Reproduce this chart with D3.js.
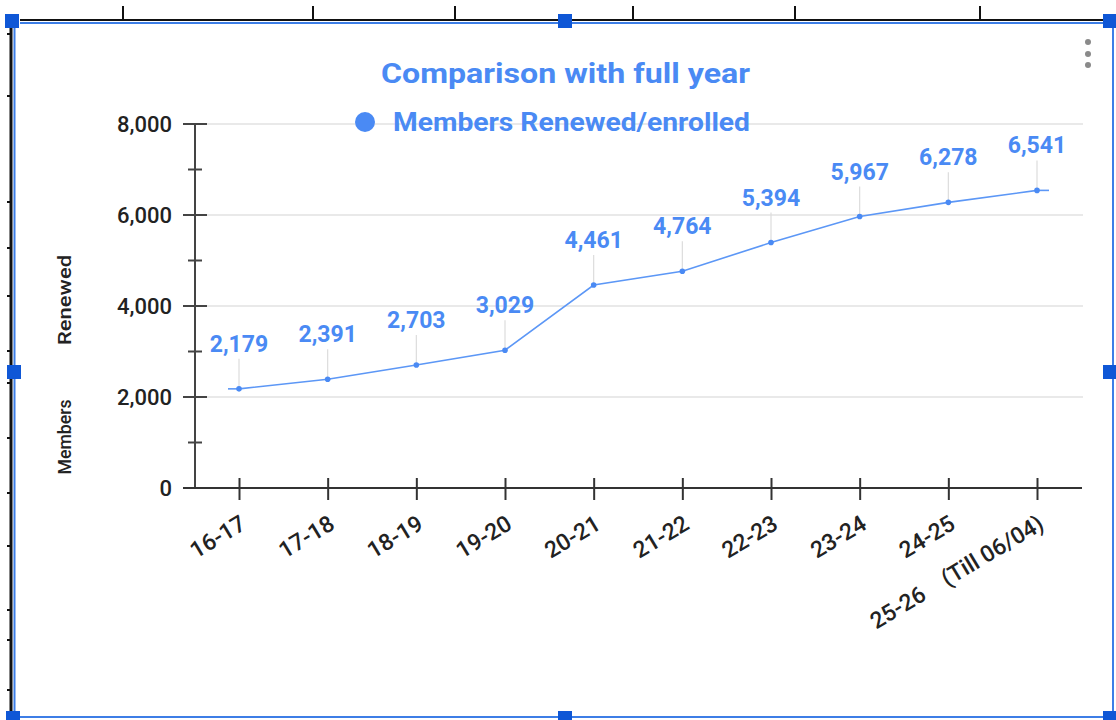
<!DOCTYPE html>
<html>
<head>
<meta charset="utf-8">
<script src="https://cdn.jsdelivr.net/npm/d3@7"></script>
<style>
  html, body { margin: 0; padding: 0; background: #fff; }
  svg { display: block; font-family: Roboto, "Noto Sans", sans-serif; }
</style>
</head>
<body>
<svg id="chart" width="1116" height="720"></svg>
<script>
const categories = ["16-17", "17-18", "18-19", "19-20", "20-21", "21-22", "22-23", "23-24", "24-25", "25-26    (Till 06/04)"];
const values = [2179, 2391, 2703, 3029, 4461, 4764, 5394, 5967, 6278, 6541];
const yTicks = [0, 2000, 4000, 6000, 8000];
const yMinorTicks = [1000, 3000, 5000, 7000];
const seriesName = "Members Renewed/enrolled";
const chartTitle = "Comparison with full year";
const yTitleParts = ["Members", "Renewed"];

const svg = d3.select("#chart");
const BLUE = "#4a8af4";
const HANDLE = "#0f57d6";
const BORDER = "#3d7ee6";

// ----- selection frame (screenshot chrome) -----
const frame = svg.append("g");
frame.append("line").attr("x1", 20).attr("x2", 1107).attr("y1", 20).attr("y2", 20).attr("stroke", "#111").attr("stroke-width", 2);
frame.append("line").attr("x1", 20).attr("x2", 1107).attr("y1", 23).attr("y2", 23).attr("stroke", BORDER).attr("stroke-width", 2);
[123, 313, 455, 633, 795, 980].forEach(x => {
  frame.append("line").attr("x1", x).attr("x2", x).attr("y1", 6).attr("y2", 20).attr("stroke", "#111").attr("stroke-width", 2);
});
frame.append("line").attr("x1", 11).attr("x2", 11).attr("y1", 28).attr("y2", 714).attr("stroke", "#111").attr("stroke-width", 3);
frame.append("line").attr("x1", 14.5).attr("x2", 14.5).attr("y1", 28).attr("y2", 714).attr("stroke", BORDER).attr("stroke-width", 2);
[34, 96, 202, 248, 296, 351, 383, 438, 493, 546, 610, 640, 690].forEach(y => {
  frame.append("line").attr("x1", 7).attr("x2", 12).attr("y1", y).attr("y2", y).attr("stroke", "#111").attr("stroke-width", 2);
});
frame.append("line").attr("x1", 1113).attr("x2", 1113).attr("y1", 28).attr("y2", 714).attr("stroke", BORDER).attr("stroke-width", 2);
frame.append("line").attr("x1", 18).attr("x2", 1107).attr("y1", 717).attr("y2", 717).attr("stroke", BORDER).attr("stroke-width", 2);
[[12, 21], [565, 21], [1110, 21], [14, 372], [1110, 372], [13, 718], [565, 718], [1110, 718]].forEach(([cx, cy]) => {
  frame.append("rect").attr("x", cx - 7).attr("y", cy - 7).attr("width", 14).attr("height", 14).attr("fill", HANDLE);
});
// kebab menu
[42, 54, 65].forEach(cy => frame.append("circle").attr("cx", 1088).attr("cy", cy).attr("r", 3).attr("fill", "#8a8a8a"));

// ----- scales -----
const x = d3.scalePoint().domain(categories).range([239, 1037]);
const y = d3.scaleLinear().domain([0, 8000]).range([488, 124]);

// gridlines
svg.append("g").selectAll("line").data(yTicks.filter(d => d > 0)).join("line")
  .attr("x1", 195).attr("x2", 1083)
  .attr("y1", d => y(d)).attr("y2", d => y(d))
  .attr("stroke", "#e2e2e2").attr("stroke-width", 1.5);

// title
svg.append("text").attr("x", 381).attr("y", 83)
  .attr("font-size", 28).attr("font-weight", 700).attr("fill", BLUE)
  .attr("textLength", 369).attr("lengthAdjust", "spacingAndGlyphs").text(chartTitle);

// legend
svg.append("circle").attr("cx", 365).attr("cy", 122).attr("r", 10).attr("fill", BLUE);
svg.append("text").attr("x", 393).attr("y", 131).attr("font-size", 26).attr("font-weight", 700)
  .attr("textLength", 357).attr("lengthAdjust", "spacingAndGlyphs")
  .attr("fill", BLUE).text(seriesName);

// y axis
const yAxis = svg.append("g").attr("transform", "translate(195,0)")
  .call(d3.axisLeft(y).tickValues(yTicks).tickFormat(d3.format(",")).tickSize(0).tickPadding(23));
yAxis.select(".domain").remove();
yAxis.selectAll("text").attr("font-size", 22).attr("font-weight", 500).attr("fill", "#222")
  .attr("font-family", "Roboto, sans-serif");
svg.append("line").attr("x1", 195).attr("x2", 195).attr("y1", 123).attr("y2", 489).attr("stroke", "#444").attr("stroke-width", 2);
svg.append("g").selectAll("line").data(yTicks).join("line")
  .attr("x1", 183).attr("x2", 207).attr("y1", d => y(d)).attr("y2", d => y(d))
  .attr("stroke", "#444").attr("stroke-width", 2);
svg.append("g").selectAll("line").data(yMinorTicks).join("line")
  .attr("x1", 188).attr("x2", 202).attr("y1", d => y(d)).attr("y2", d => y(d))
  .attr("stroke", "#444").attr("stroke-width", 2);

// x axis
svg.append("line").attr("x1", 183).attr("x2", 1082).attr("y1", 488).attr("y2", 488).attr("stroke", "#333").attr("stroke-width", 2);
const xAxis = svg.append("g").attr("transform", "translate(0,488)")
  .call(d3.axisBottom(x).tickSize(12).tickSizeOuter(0));
xAxis.select(".domain").remove();
xAxis.selectAll(".tick line").attr("stroke", "#333").attr("stroke-width", 2).attr("y1", -10);
xAxis.selectAll(".tick text")
  .attr("font-size", 23).attr("font-weight", 500).attr("fill", "#222")
  .attr("font-family", "Roboto, sans-serif")
  .style("white-space", "pre")
  .attr("text-anchor", "end")
  .attr("dy", 0).attr("y", 0)
  .attr("transform", "translate(8,40) rotate(-31)");

// y axis title
const yt = svg.append("g").attr("font-size", 19).attr("font-weight", 500).attr("fill", "#222");
yt.append("text").attr("transform", "translate(71,437) rotate(-90)").attr("text-anchor", "middle")
  .attr("textLength", 75).attr("lengthAdjust", "spacingAndGlyphs").text(yTitleParts[0]);
yt.append("text").attr("transform", "translate(71,300) rotate(-90)").attr("text-anchor", "middle")
  .attr("textLength", 90).attr("lengthAdjust", "spacingAndGlyphs").text(yTitleParts[1]);

// data
const pts = categories.map((c, i) => ({ c, v: values[i] }));

// leader lines
svg.append("g").selectAll("line").data(pts).join("line")
  .attr("x1", d => x(d.c)).attr("x2", d => x(d.c))
  .attr("y1", d => y(d.v)).attr("y2", d => y(d.v) - 30)
  .attr("stroke", "#dcdcdc").attr("stroke-width", 1.2);

// line ends (small extension beyond first and last point)
const first = pts[0], last = pts[pts.length - 1];
svg.append("line").attr("x1", x(first.c) - 11).attr("x2", x(first.c)).attr("y1", y(first.v)).attr("y2", y(first.v))
  .attr("stroke", "#5c97f6").attr("stroke-width", 1.6);
svg.append("line").attr("x1", x(last.c)).attr("x2", x(last.c) + 12).attr("y1", y(last.v)).attr("y2", y(last.v))
  .attr("stroke", "#5c97f6").attr("stroke-width", 1.6);

svg.append("path").datum(pts)
  .attr("d", d3.line().x(d => x(d.c)).y(d => y(d.v)))
  .attr("fill", "none").attr("stroke", "#5c97f6").attr("stroke-width", 1.6);

svg.append("g").selectAll("circle").data(pts).join("circle")
  .attr("cx", d => x(d.c)).attr("cy", d => y(d.v)).attr("r", 2.8).attr("fill", BLUE);

svg.append("g").selectAll("text").data(pts).join("text")
  .attr("x", d => x(d.c)).attr("y", d => y(d.v) - 37)
  .attr("text-anchor", "middle").attr("font-size", 23).attr("font-weight", 700)
  .attr("fill", BLUE).text(d => d3.format(",")(d.v));
</script>
</body>
</html>
